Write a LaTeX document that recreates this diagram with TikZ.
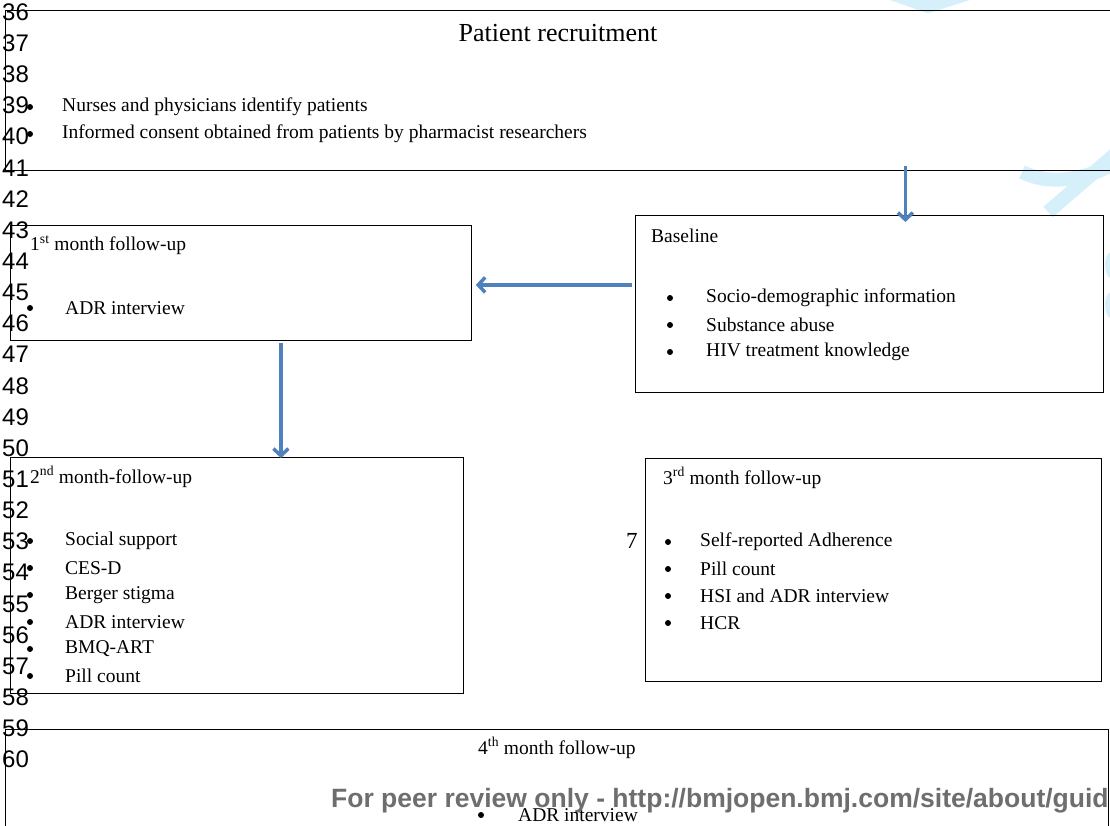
\documentclass[tikz,border=0pt]{standalone}
\usepackage{fontspec}
\setmainfont{Liberation Serif}
\newfontfamily\numfont{Liberation Sans}
\usetikzlibrary{arrows.meta, calc}
\definecolor{arrowblue}{HTML}{4F81BD}
\definecolor{wmcyan}{HTML}{D6F0FB}
\definecolor{footgray}{HTML}{6E6E6E}

\begin{document}
\begin{tikzpicture}[x=1pt, y=-1pt,
  box/.style={draw, line width=0.8pt, anchor=north west, inner sep=0pt},
  txt/.style={anchor=west, inner sep=0pt, font=\fontsize{19.5}{23}\selectfont},
  dot/.style={circle, fill, inner sep=0pt, minimum size=6pt},
  head/.style={inner sep=0pt, font=\fontsize{26}{30}\selectfont},
  lnum/.style={anchor=west, inner sep=0pt, font=\numfont\fontsize{24}{28}\selectfont},
  wm/.style={wmcyan, line width=14pt},
  arr/.style={-{Straight Barb[length=7pt,width=15pt]}, line width=3.5pt, arrowblue}
]
\clip (0,0) rectangle (1110,825);

% watermark traces
\draw[wm] (888,-8) -- (928,6) -- (972,-8);
\draw[wm] (1022,172) .. controls (1050,186) and (1088,180) .. (1120,160);
\draw[wm] (1048,212) -- (1120,150);
\fill[wmcyan] (1111,265) ellipse (6pt and 13pt);
\fill[wmcyan] (1111,305) ellipse (6pt and 13pt);

% boxes
\node[box, minimum width=1115pt, minimum height=160pt] (recruit) at (5,10) {};
\node[box, minimum width=468pt, minimum height=177pt] (base) at (635,215) {};
\node[box, minimum width=461pt, minimum height=115pt] (fu1) at (10,225) {};
\node[box, minimum width=453pt, minimum height=236pt] (fu2) at (10,457) {};
\node[box, minimum width=456pt, minimum height=223pt] (fu3) at (645,458) {};
\node[box, minimum width=1103pt, minimum height=120pt] (fu4) at (5,729) {};

% patient recruitment
\node[head] (recruit-t) at (558,33) {Patient recruitment};
\foreach \t [count=\i] in {Nurses and physicians identify patients,
    Informed consent obtained from patients by pharmacist researchers} {
  \node[dot] (recruit-d\i) at (30, 80+27*\i) {};
  \node[txt] (recruit-\i) at (62, 80+27*\i) {\t};
}

% baseline
\node[txt] (base-t) at (651,236) {Baseline};
\foreach \t [count=\i] in {Socio-demographic information, Substance abuse,
    HIV treatment knowledge} {
  \node[dot] (base-d\i) at (670, 271+27*\i) {};
  \node[txt] (base-\i) at (706, 271+27*\i) {\t};
}

% 1st month
\node[txt] (fu1-t) at (30,245) {1\textsuperscript{st} month follow-up};
\node[dot] (fu1-d1) at (30,308) {};
\node[txt] (fu1-1) at (65,308) {ADR interview};

% 2nd month
\node[txt] (fu2-t) at (30,477) {2\textsuperscript{nd} month-follow-up};
\foreach \t [count=\i] in {Social support, CES-D, Berger stigma, ADR interview,
    BMQ-ART, Pill count} {
  \node[dot] (fu2-d\i) at (30, 514+27*\i) {};
  \node[txt] (fu2-\i) at (65, 514+27*\i) {\t};
}

% 3rd month
\node[txt] (fu3-t) at (663,478) {3\textsuperscript{rd} month follow-up};
\foreach \t [count=\i] in {Self-reported Adherence, Pill count,
    HSI and ADR interview, HCR} {
  \node[dot] (fu3-d\i) at (668, 515+27*\i) {};
  \node[txt] (fu3-\i) at (700, 515+27*\i) {\t};
}
\node[txt, font=\fontsize{23}{26}\selectfont] (pageno) at (626,541) {7};

% 4th month
\node[txt] (fu4-t) at (478,748) {4\textsuperscript{th} month follow-up};
\node[anchor=west, inner sep=0pt, font=\numfont\bfseries\fontsize{26.5}{30}\selectfont,
  text=footgray] (footer) at (331,801) {For peer review only - http://bmjopen.bmj.com/site/about/guid};
\node[dot] (fu4-d1) at (481,815) {};
\node[txt] (fu4-1) at (518,815) {ADR interview};

% arrows
\draw[arr] ($(recruit.south -| base.north)+(36,-5)$) -- ($(base.north)+(36,7)$);
\draw[arr] ($(base.west |- fu1.east)+(-3,2)$) -- ($(fu1.east)+(4,2)$);
\draw[arr] ($(fu1.south)+(40,2)$) -- ($(fu1.south |- fu2.north)+(40,1)$);

% line numbers
\foreach \n [count=\i from 0] in {36,...,60}
  \node[lnum] (ln\n) at (2, 12+31.15*\i) {\n};
\end{tikzpicture}
\end{document}
